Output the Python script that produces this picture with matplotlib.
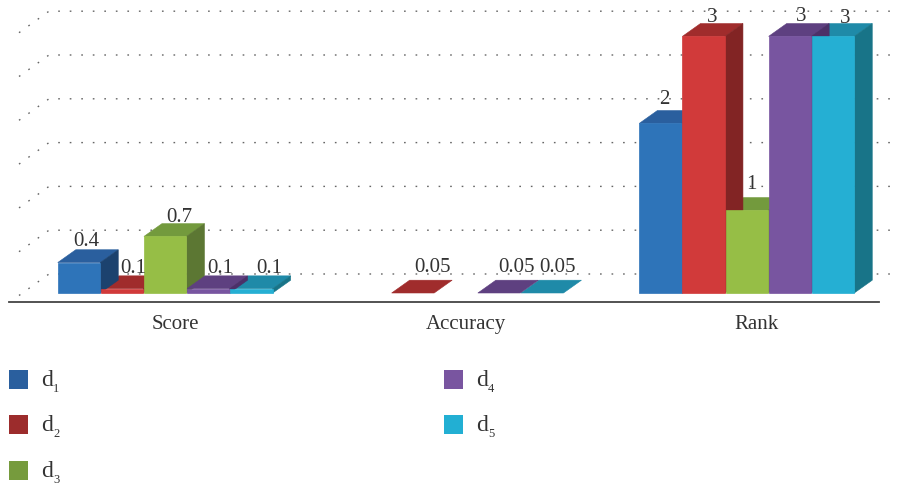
import numpy as np
import matplotlib.pyplot as plt
from matplotlib.patches import Polygon, Rectangle

plt.rcParams['font.family'] = ['Liberation Serif', 'DejaVu Serif']

categories = ['Score', 'Accuracy', 'Rank']
series = ['1', '2', '3', '4', '5']
# one row per series, nan where nothing is drawn
d1 = [0.4, np.nan, 2]
d2 = [0.1, 0.05, 3]
d3 = [0.7, np.nan, 1]
d4 = [0.1, 0.05, 3]
d5 = [0.1, 0.05, 3]
values = [d1, d2, d3, d4, d5]
labels = [['0.4', '', '2'], ['0.1', '0.05', '3'], ['0.7', '', '1'],
          ['0.1', '0.05', '3'], ['0.1', '0.05', '3']]
grid_values = [0, 0.5, 1, 1.5, 2, 2.5, 3]

front = ['#2e74b9', '#d13a3a', '#96be46', '#7855a0', '#25afd3']
top = ['#2a5f9e', '#a02c2c', '#739a3d', '#5e4080', '#1f8aa8']
side = ['#1c426e', '#822424', '#5c7733', '#4c3068', '#187488']
legend_col = ['#2a5f9e', '#9c2c2c', '#769b3d', '#7955a0', '#22afd3']
text_col = '#333333'

# small nudges for the value labels, pixels (right, up)
nudge_x = [[-1, 0, -5], [2, 11, 0], [5, 0, -4], [3, 9, 3], [9, 7, 3]]
nudge_y = [[0, 0, 3], [-1, 4, -2], [-2, 0, 5], [-1, 4, -1], [-1, 4, -3]]

# sizes in pixels, turned into data units below
W, H = 901, 485
px_x = 290.8   # one category
px_y = 87.0    # one unit of value
x0_px = 165.5  # centre of first group
y_floor = 294  # where the fronts of the bars stand
y_min = 0.05   # value at the floor

fig = plt.figure(figsize=(W / 100, H / 100), dpi=100)
ax = fig.add_axes([0, 0, 1, 1])
ax.set_xlim(-x0_px / px_x, (W - x0_px) / px_x)
ax.set_ylim(y_min - (H - y_floor) / px_y, y_min + y_floor / px_y)
ax.axis('off')

bar_w = 42.5 / px_x
step = 43.1 / px_x
dep_x = 18 / px_x
dep_y = 12.8 / px_y

# dotted back wall, each line runs in from the front left corner
wall_x = 30 / px_x
wall_y = 21.5 / px_y
x_back = (49 - x0_px) / px_x
x_end = (897 - x0_px) / px_x
y_back0 = y_min + (y_floor - 275) / px_y
for g in grid_values:
    yb = y_back0 + g * 43.8 * 2 / px_y
    ax.plot([x_back - wall_x, x_back, x_end], [yb - wall_y, yb, yb],
            color='#666666', lw=1.0, linestyle=(0, (1.2, 7.1)), zorder=1)

# tops and sides go under all the fronts, in this order
back_order = [4, 2, 3, 1, 0]
for s in back_order:
    for c in range(len(categories)):
        v = values[s][c]
        if np.isnan(v):
            continue
        x = c + (s - 2.5) * step
        ax.add_patch(Polygon([(x, v), (x + bar_w, v), (x + bar_w + dep_x, v + dep_y), (x + dep_x, v + dep_y)],
                             facecolor=top[s], edgecolor=top[s], lw=0.4, zorder=2))
        if v > y_min:
            ax.add_patch(Polygon([(x + bar_w, y_min), (x + bar_w + dep_x, y_min + dep_y),
                                  (x + bar_w + dep_x, v + dep_y), (x + bar_w, v)],
                                 facecolor=side[s], edgecolor=side[s], lw=0.4, zorder=2))

for s in range(5):
    for c in range(len(categories)):
        v = values[s][c]
        if np.isnan(v) or v <= y_min:
            continue
        x = c + (s - 2.5) * step
        ax.add_patch(Rectangle((x, y_min), bar_w, v - y_min, facecolor=front[s],
                               edgecolor=front[s], lw=0.5, zorder=3))

# value labels
for s in range(5):
    for c in range(len(categories)):
        if labels[s][c] == '':
            continue
        x = c + (s - 2.5) * step + (30 + nudge_x[s][c]) / px_x
        y = values[s][c] + dep_y + (5 + nudge_y[s][c]) / px_y
        ax.text(x, y, labels[s][c], ha='center', va='baseline', fontsize=15,
                color=text_col, zorder=5)

# baseline and category names
ax.plot([(9 - x0_px) / px_x, (879 - x0_px) / px_x], [y_min - 8.5 / px_y] * 2,
        color='#444444', lw=1.3, zorder=4)
for c, name in enumerate(categories):
    ax.text(c + 9.5 / px_x, y_min - 35 / px_y, name, ha='center', va='baseline',
            fontsize=15, color=text_col)

# legend in two columns
leg = fig.add_axes([0, 0, 1, 1])
leg.set_xlim(0, W)
leg.set_ylim(H, 0)
leg.axis('off')
leg_x = [9, 9, 9, 444, 444]
leg_y = [371, 416, 462, 371, 416]
for s in range(5):
    leg.add_patch(Rectangle((leg_x[s], leg_y[s]), 19, 19, facecolor=legend_col[s], edgecolor='none'))
    leg.text(leg_x[s] + 32, leg_y[s] + 15, 'd', fontsize=17, color=text_col, va='baseline')
    leg.text(leg_x[s] + 44, leg_y[s] + 21, series[s], fontsize=9, color=text_col, va='baseline')

fig.savefig('out.png', dpi=100, facecolor='white')
